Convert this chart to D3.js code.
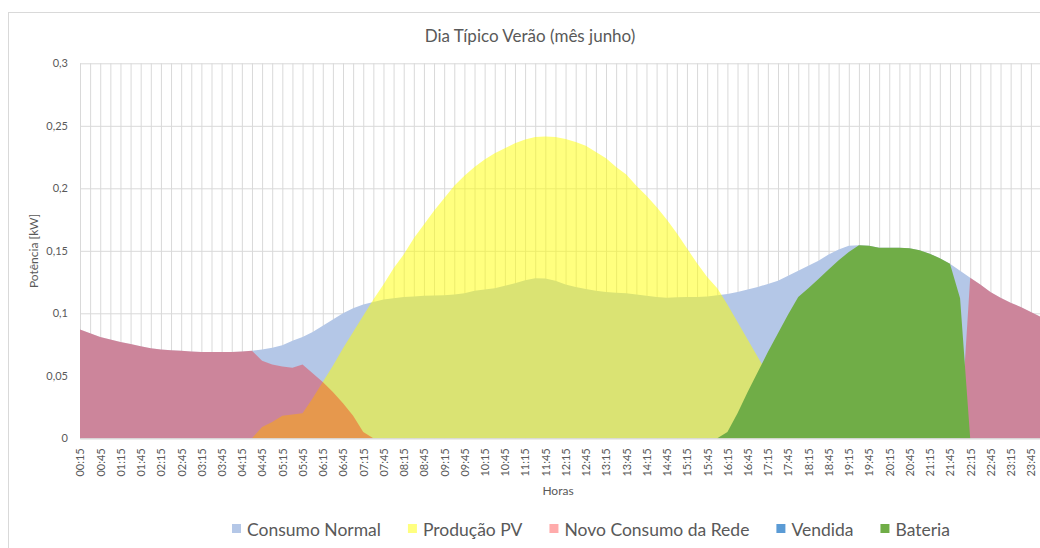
<!DOCTYPE html>
<html>
<head>
<meta charset="utf-8">
<script src="https://cdn.jsdelivr.net/npm/d3@7"></script>
<style>
  body { margin: 0; background: #fff; }
  svg { display: block; font-family: Lato, "Open Sans", sans-serif; }
</style>
</head>
<body>
<svg id="chart" width="1040" height="548"></svg>
<script>
const categories = [
  "00:15","00:30","00:45","01:00","01:15","01:30","01:45","02:00","02:15","02:30","02:45","03:00",
  "03:15","03:30","03:45","04:00","04:15","04:30","04:45","05:00","05:15","05:30","05:45","06:00",
  "06:15","06:30","06:45","07:00","07:15","07:30","07:45","08:00","08:15","08:30","08:45","09:00",
  "09:15","09:30","09:45","10:00","10:15","10:30","10:45","11:00","11:15","11:30","11:45","12:00",
  "12:15","12:30","12:45","13:00","13:15","13:30","13:45","14:00","14:15","14:30","14:45","15:00",
  "15:15","15:30","15:45","16:00","16:15","16:30","16:45","17:00","17:15","17:30","17:45","18:00",
  "18:15","18:30","18:45","19:00","19:15","19:30","19:45","20:00","20:15","20:30","20:45","21:00",
  "21:15","21:30","21:45","22:00","22:15","22:30","22:45","23:00","23:15","23:30","23:45","24:00"
];
const xTickLabels = [
  "00:15","00:45","01:15","01:45","02:15","02:45","03:15","03:45","04:15","04:45","05:15","05:45",
  "06:15","06:45","07:15","07:45","08:15","08:45","09:15","09:45","10:15","10:45","11:15","11:45",
  "12:15","12:45","13:15","13:45","14:15","14:45","15:15","15:45","16:15","16:45","17:15","17:45",
  "18:15","18:45","19:15","19:45","20:15","20:45","21:15","21:45","22:15","22:45","23:15","23:45"
];
const yTicks = [0, 0.05, 0.1, 0.15, 0.2, 0.25, 0.3];
const yTickLabels = ["0", "0,05", "0,1", "0,15", "0,2", "0,25", "0,3"];

const consumoNormal = [
  0.087,0.084,0.081,0.079,0.077,0.0755,0.0737,0.072,0.071,0.0705,
  0.070,0.0695,0.069,0.069,0.069,0.069,0.0695,0.070,0.071,0.0725,
  0.0745,0.078,0.081,0.085,0.090,0.095,0.100,0.104,0.107,0.109,
  0.111,0.112,0.113,0.1135,0.114,0.1143,0.1145,0.115,0.116,0.118,
  0.119,0.120,0.122,0.124,0.1265,0.128,0.1278,0.126,0.123,0.121,
  0.1195,0.118,0.117,0.1165,0.116,0.115,0.114,0.113,0.1125,0.1128,
  0.113,0.113,0.1135,0.1145,0.1155,0.117,0.119,0.121,0.1235,0.126,
  0.130,0.134,0.138,0.142,0.147,0.151,0.154,0.1545,0.154,0.1525,
  0.1525,0.1525,0.152,0.1505,0.1477,0.144,0.1397,0.134,0.1285,0.123,
  0.117,0.1125,0.1085,0.105,0.101,0.097
];
const producaoPV = [
  0,0,0,0,0,0,0,0,0,0,
  0,0,0,0,0,0,0,0,0.009,0.013,
  0.018,0.019,0.020,0.032,0.045,0.058,0.072,0.085,0.098,0.111,
  0.123,0.136,0.147,0.160,0.171,0.182,0.192,0.202,0.210,0.217,
  0.223,0.228,0.232,0.236,0.239,0.241,0.2415,0.241,0.2395,0.237,
  0.234,0.229,0.224,0.217,0.211,0.202,0.194,0.185,0.175,0.164,
  0.152,0.140,0.129,0.120,0.107,0.093,0.079,0.065,0.051,0.037,
  0.023,0.009,0,0,0,0,0,0,0,0,
  0,0,0,0,0,0,0,0,0,0,
  0,0,0,0,0,0
];
const novoConsumoRede = [
  0.087,0.084,0.081,0.079,0.077,0.0755,0.0737,0.072,0.071,0.0705,
  0.070,0.0695,0.069,0.069,0.069,0.069,0.0695,0.070,0.062,0.059,
  0.0575,0.0565,0.059,0.052,0.045,0.037,0.028,0.018,0.005,0,
  0,0,0,0,0,0,0,0,0,0,
  0,0,0,0,0,0,0,0,0,0,
  0,0,0,0,0,0,0,0,0,0,
  0,0,0,0,0,0,0,0,0,0,
  0,0,0,0,0,0,0,0,0,0,
  0,0,0,0,0,0,0,0,0.1285,0.123,
  0.117,0.1125,0.1085,0.105,0.101,0.097
];
const vendida = [
  0,0,0,0,0,0,0,0,0,0, 0,0,0,0,0,0,0,0,0,0,
  0,0,0,0,0,0,0,0,0,0, 0,0,0,0,0,0,0,0,0,0,
  0,0,0,0,0,0,0,0,0,0, 0,0,0,0,0,0,0,0,0,0,
  0,0,0,0,0,0,0,0,0,0, 0,0,0,0,0,0,0,0,0,0,
  0,0,0,0,0,0,0,0,0,0, 0,0,0,0,0,0
];
const bateria = [
  0,0,0,0,0,0,0,0,0,0,
  0,0,0,0,0,0,0,0,0,0,
  0,0,0,0,0,0,0,0,0,0,
  0,0,0,0,0,0,0,0,0,0,
  0,0,0,0,0,0,0,0,0,0,
  0,0,0,0,0,0,0,0,0,0,
  0,0,0,0,0.005,0.020,0.037,0.053,0.069,0.084,
  0.099,0.113,0.120,0.1275,0.135,0.1425,0.149,0.1545,0.154,0.1525,
  0.1525,0.1525,0.152,0.1505,0.1477,0.144,0.1397,0.112,0,0,
  0,0,0,0,0,0
];

const seriesNames = ["Consumo Normal", "Produção PV", "Novo Consumo da Rede", "Vendida", "Bateria"];
const seriesColors = ["#B4C7E7", "#FFFF00", "#FF0000", "#5B9BD5", "#70AD47"];
const seriesOpacity = [1, 0.5, 0.33, 1, 1];
const seriesValues = [consumoNormal, producaoPV, novoConsumoRede, vendida, bateria];

const svg = d3.select("#chart");
const plotL = 80, plotR = 1041, plotT = 63.3, plotB = 438.3;
const textColor = "#595959";
const gridColor = "#D9D9D9";

// chart border
svg.append("rect").attr("x", 8.5).attr("y", 12.5).attr("width", 1100).attr("height", 600)
  .attr("fill", "#fff").attr("stroke", gridColor);

const x = d3.scalePoint().domain(categories).range([plotL, plotR]);
const y = d3.scaleLinear().domain([0, 0.3]).range([plotB, plotT]);

// gridlines
const gy = svg.append("g").attr("transform", `translate(${plotL},0)`)
  .call(d3.axisLeft(y).tickValues(yTicks).tickSize(-(plotR - plotL)).tickFormat(""));
gy.select(".domain").remove();
gy.selectAll("line").attr("stroke", gridColor);

const gx = svg.append("g").attr("transform", `translate(0,${plotB})`)
  .call(d3.axisBottom(x).tickSize(-(plotB - plotT)).tickFormat(""));
gx.select(".domain").remove();
gx.selectAll("line").attr("stroke", gridColor);

// areas
const area = d3.area()
  .x((d, i) => x(categories[i]))
  .y0(y(0))
  .y1(d => y(d));

seriesValues.forEach((vals, k) => {
  svg.append("path")
    .datum(vals)
    .attr("d", area)
    .attr("fill", seriesColors[k])
    .attr("fill-opacity", seriesOpacity[k]);
});

// x axis
const ax = svg.append("g").attr("transform", `translate(0,${plotB})`)
  .call(d3.axisBottom(x).tickValues(xTickLabels).tickSize(0));
ax.select(".domain").attr("stroke", gridColor);
ax.selectAll("text")
  .attr("transform", "rotate(-90)")
  .attr("x", -10).attr("y", 0).attr("dy", "0.35em")
  .style("text-anchor", "end")
  .attr("fill", textColor)
  .style("font-size", "11px")
  .style("font-family", "Lato, sans-serif");

// y axis
const ay = svg.append("g").attr("transform", `translate(${plotL},0)`)
  .call(d3.axisLeft(y).tickValues(yTicks).tickSize(0).tickPadding(12)
    .tickFormat((d, i) => yTickLabels[i]));
ay.select(".domain").remove();
ay.selectAll("text").attr("fill", textColor)
  .style("font-size", "11px").style("font-family", "Lato, sans-serif");

// title
svg.append("text").attr("x", 530).attr("y", 42).attr("text-anchor", "middle")
  .attr("fill", textColor).style("font-size", "17px")
  .text("Dia Típico Verão (mês junho)");

// axis titles
svg.append("text").attr("x", 558).attr("y", 495).attr("text-anchor", "middle")
  .attr("fill", textColor).style("font-size", "12px").text("Horas");
svg.append("text").attr("transform", "translate(38,251) rotate(-90)").attr("text-anchor", "middle")
  .attr("fill", textColor).style("font-size", "12px").text("Potência [kW]");

// legend
const legend = svg.append("g");
let lx = 232;
seriesNames.forEach((name, k) => {
  const g = legend.append("g").attr("transform", `translate(${lx},0)`);
  g.append("rect").attr("x", 0).attr("y", 524).attr("width", 9).attr("height", 9)
    .attr("fill", seriesColors[k]).attr("fill-opacity", seriesOpacity[k]);
  const t = g.append("text").attr("x", 15).attr("y", 535.5).attr("fill", textColor)
    .style("font-size", "17.5px").text(name);
  lx += 15 + t.node().getComputedTextLength() + 27;
});
</script>
</body>
</html>
